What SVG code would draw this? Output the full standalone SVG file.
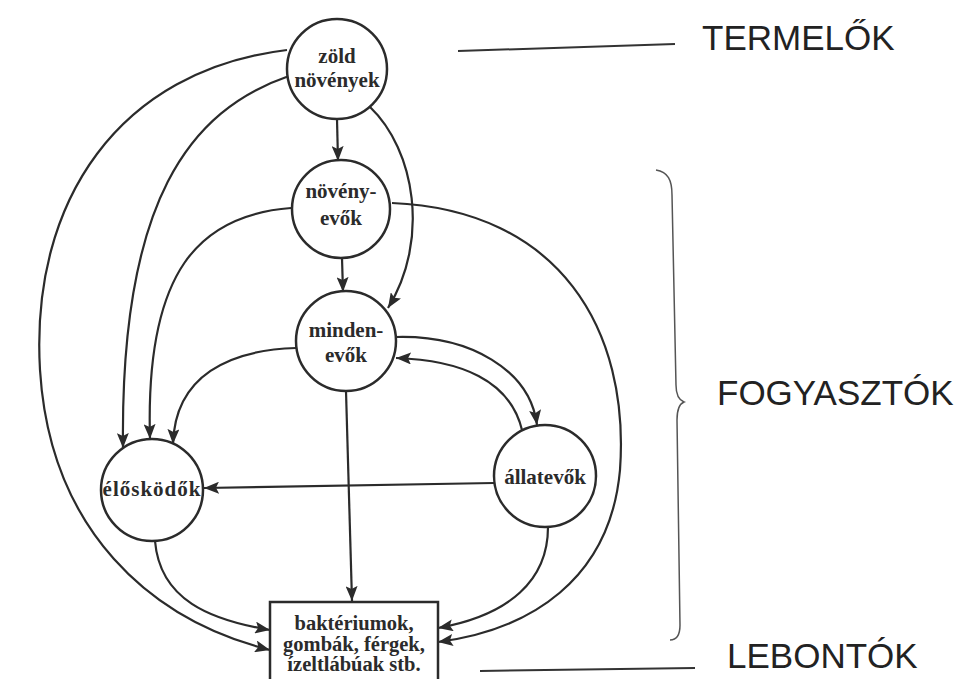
<svg xmlns="http://www.w3.org/2000/svg" width="967" height="679" viewBox="0 0 967 679">
<style>
.node circle{fill:#fff;stroke:#2b2b2b;stroke-width:2.5}
.node rect{fill:#fff;stroke:#2b2b2b;stroke-width:2.5}
.nt{font-family:"Liberation Serif",serif;font-weight:bold;font-size:21px;fill:#2b2b2b;text-anchor:middle}
.bt{font-size:20.5px}
.edges path{fill:none;stroke:#2b2b2b;stroke-width:2.2;marker-end:url(#ah)}
.lab{font-family:"Liberation Sans",sans-serif;font-size:35px;fill:#222}
.rule{fill:none;stroke:#333;stroke-width:2}
</style>
<defs>
<marker id="ah" markerUnits="userSpaceOnUse" markerWidth="15" markerHeight="12" refX="15" refY="6" orient="auto">
<path d="M0,0 L15,6 L0,12 L3,6 z" fill="#2b2b2b"/>
</marker>
</defs>
<rect width="967" height="679" fill="#fff"/>
<g class="edges">
<path d="M337,119 L338,161"/>
<path d="M342,258 L343,292"/>
<path d="M370,107 C415,150 430,240 388,308"/>
<path d="M287,50 C120,70 30,200 40,370 C50,530 150,620 270,650"/>
<path d="M289,76 C190,110 120,200 123,448"/>
<path d="M291,208 C200,215 145,270 150,439"/>
<path d="M296,348 C230,350 175,375 173,444"/>
<path d="M155,541 C160,600 210,620 270,630"/>
<path d="M494,483 L204,488"/>
<path d="M346,391 L352,601"/>
<path d="M396,337 C470,335 530,370 537,425"/>
<path d="M522,430 C510,380 460,360 396,358"/>
<path d="M392,203 C560,210 630,330 620,470 C610,580 530,630 438,642"/>
<path d="M548,527 C548,580 510,615 438,628"/>
</g>
<g id="zold" class="node"><circle cx="337" cy="69" r="50"/><text class="nt" x="337" y="63">zöld</text><text class="nt" x="337" y="87">növények</text></g>
<g id="novenyevok" class="node"><circle cx="341" cy="209" r="49"/><text class="nt" x="341" y="198">növény-</text><text class="nt" x="341" y="225">evők</text></g>
<g id="mindenevok" class="node"><circle cx="346" cy="341" r="50"/><text class="nt" x="346" y="337">minden-</text><text class="nt" x="346" y="362">evők</text></g>
<g id="eloskodok" class="node"><circle cx="152" cy="490" r="51"/><text class="nt" x="152" y="496" letter-spacing="1">élősködők</text></g>
<g id="allatevok" class="node"><circle cx="545" cy="476" r="51"/><text class="nt" x="545" y="484">állatevők</text></g>
<g id="lebontok" class="node"><rect x="270" y="602" width="168" height="82"/><text class="nt bt" x="354" y="630">baktériumok,</text><text class="nt bt" x="354" y="651">gombák, férgek,</text><text class="nt bt" x="354" y="671">ízeltlábúak stb.</text></g>
<g id="labels">
<path class="rule" d="M458,51 L675,44"/>
<text class="lab" x="702" y="50">TERMELŐK</text>
<path d="M656,170 C668,172 672,180 672,195 L676,385 C676,395 679,400 684,402 C679,404 677,410 677,420 L680,625 C680,635 676,640 670,640" fill="none" stroke="#555" stroke-width="1.5"/>
<text class="lab" x="717" y="405">FOGYASZTÓK</text>
<path class="rule" d="M480,671 L695,668"/>
<text class="lab" x="727" y="668">LEBONTÓK</text>
</g>
</svg>
